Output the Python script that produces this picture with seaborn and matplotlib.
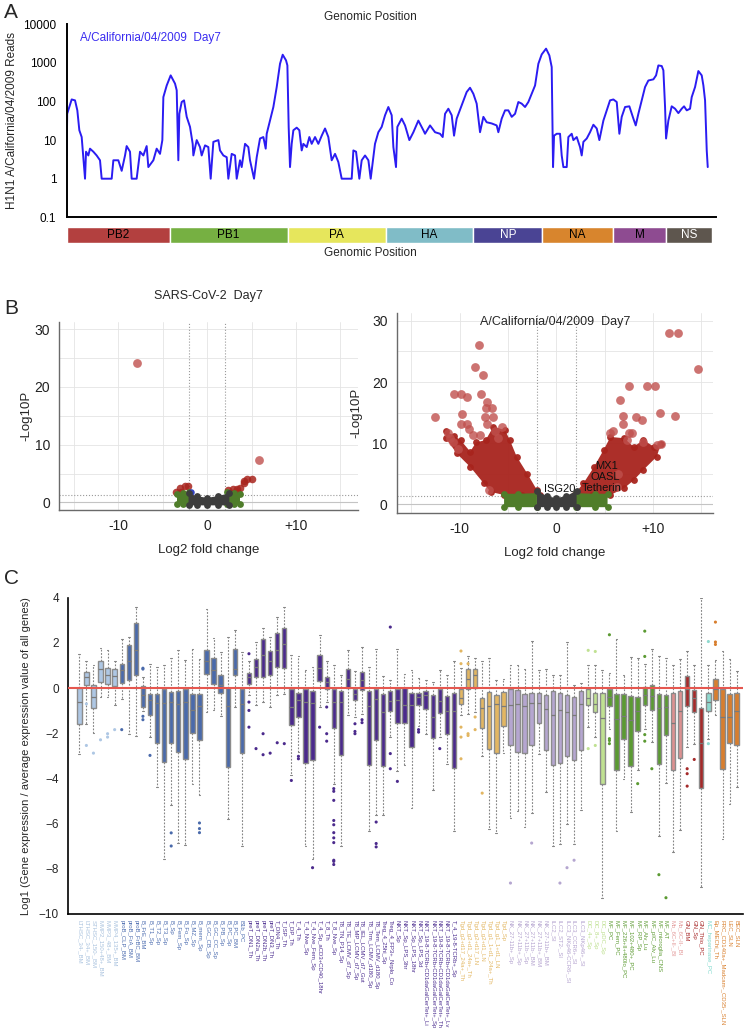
import matplotlib
matplotlib.use("Agg")
import matplotlib.pyplot as plt
from matplotlib.ticker import NullLocator
import seaborn as sns
import pandas as pd

# ---------------- Panel A: reads along the H1N1 genome ----------------
genome_pos = [0, 10, 104, 174, 222, 264, 313, 348, 383, 404,
              452, 487, 557, 626, 696, 731, 940, 975, 1079, 1149,
              1219, 1253, 1323, 1358, 1462, 1532, 1602, 1671, 1706, 1811,
              1880, 1950, 1999, 2020, 2090, 2173, 2264, 2299, 2333, 2354,
              2403, 2452, 2508, 2577, 2633, 2647, 2717, 2786, 2821, 2891,
              2960, 3009, 3065, 3170, 3204, 3274, 3344, 3378, 3448, 3518,
              3553, 3622, 3657, 3727, 3796, 3831, 3915, 3971, 4040, 4110,
              4159, 4180, 4249, 4319, 4389, 4458, 4514, 4584, 4612, 4639,
              4667, 4702, 4737, 4807, 4862, 4911, 4946, 5016, 5071, 5120,
              5190, 5259, 5329, 5399, 5468, 5538, 5608, 5677, 5747, 5956,
              5991, 6047, 6116, 6165, 6235, 6305, 6353, 6443, 6513, 6583,
              6653, 6722, 6792, 6827, 6882, 6910, 7001, 7071, 7161, 7245,
              7349, 7454, 7489, 7593, 7698, 7802, 7858, 7907, 7976, 8046,
              8095, 8150, 8255, 8359, 8429, 8499, 8568, 8638, 8708, 8777,
              8882, 8986, 9021, 9091, 9161, 9230, 9300, 9370, 9439, 9509,
              9579, 9648, 9718, 9788, 9857, 9927, 10018, 10087, 10136, 10164,
              10185, 10241, 10310, 10345, 10380, 10450, 10484, 10554, 10589, 10659,
              10728, 10763, 10798, 10868, 10937, 11007, 11077, 11132, 11216, 11286,
              11355, 11425, 11495, 11550, 11599, 11669, 11759, 11843, 11892, 11947,
              12017, 12087, 12156, 12261, 12317, 12365, 12435, 12470, 12505, 12526,
              12574, 12644, 12714, 12783, 12853, 12902, 12958, 13027, 13062, 13132,
              13201, 13271, 13306, 13341, 13376, 13397]
reads = [4, 48, 113, 107, 59, 18, 12, 3.6, 1, 5,
         4, 6, 5, 4, 3, 1, 1, 3, 3, 1.6,
         4, 7, 5, 1, 1, 5, 4, 7, 2, 3,
         6, 4.4, 10, 130, 260, 475, 290, 195, 3, 48,
         97, 107, 40, 22, 8, 4, 10, 6.6, 4, 7.3,
         6.6, 1, 9, 10, 5.4, 4, 3.6, 1, 4.4, 4,
         1, 3, 2, 8, 6.6, 3, 1, 3.6, 11, 12,
         6, 14.6, 32, 72, 237, 950, 1630, 1160, 860, 22,
         2, 8, 18, 21, 18, 5.4, 8, 6.6, 12, 8,
         12, 8, 13, 20, 12, 3, 4.4, 2.7, 1, 1,
         5.4, 5, 1, 3, 4, 3, 1, 8, 16, 22,
         44, 72, 44, 6.6, 2, 22, 36, 24, 10, 16,
         32, 18, 14.6, 24, 16, 14.6, 12, 48, 65, 44,
         13, 36, 80, 176, 227, 158, 88, 16, 40, 29,
         27, 24, 16, 36, 59, 59, 40, 48, 97, 88,
         72, 97, 158, 260, 950, 1660, 2340, 1560, 780, 2,
         13, 14.6, 14.6, 4, 2, 2, 12, 14.6, 10, 12,
         6.6, 4, 9, 11, 16, 25, 20, 10, 32, 59,
         107, 113, 97, 14.6, 40, 72, 75, 36, 24, 48,
         107, 237, 350, 375, 475, 860, 830, 640, 72, 11,
         32, 75, 65, 50, 65, 75, 59, 65, 130, 237,
         615, 475, 260, 107, 5.4, 2]

segments = ["PB2", "PB1", "PA", "HA", "NP", "NA", "M", "NS"]
seg_start = [0, 2150, 4620, 6670, 8500, 9940, 11420, 12530]
seg_end = [2150, 4620, 6670, 8500, 9940, 11420, 12530, 13480]
seg_colors = ["#b3403f", "#76b042", "#e6e65c", "#80bcc7", "#4a4494", "#d8852d", "#8e4b91", "#5e564e"]
seg_text = ["black", "black", "black", "black", "white", "black", "black", "white"]

# ---------------- Panel B: volcano plots ----------------
# SARS-CoV-2 Day7
sars_red_x = [5.0, 4.5, 4.2, 4.1, 3.7, 3.4, 2.9, 2.4, 2.9, 3.5, 2.6, -3.1, -2.5, -2.2, -3.5, -2.9]
sars_red_y = [4.1, 4.0, 3.7, 3.3, 2.5, 2.3, 2.3, 2.1, 1.7, 1.7, 1.4, 2.5, 2.9, 2.8, 1.9, 1.9]
sars_out_x = [-7.95, 5.85]
sars_out_y = [24.1, 7.3]
sars_green_lx = [-3.4, -3.4, -2.7, -2.0, -2.0, -2.7]
sars_green_ly = [-0.3, 1.5, 1.7, 1.8, -0.3, -0.3]
sars_green_rx = [2.2, 2.2, 3.0, 3.7, 3.7, 3.0]
sars_green_ry = [-0.3, 1.8, 1.6, 1.4, -0.3, -0.3]
sars_gray_x = [-2.1, -2.1, -1.2, 0.0, 1.2, 2.5, 2.5, 1.2, 0.0, -1.2]
sars_gray_y = [-0.5, 1.6, 1.1, 0.8, 1.1, 1.6, -0.5, -0.5, -0.5, -0.5]

# A/California/04/2009 Day7
flu_out_x = [-12.5, -10.6, -9.9, -9.2, -8.0, -8.4, -7.6, -7.8, -7.2, -7.3, -6.6, -7.4, -6.5, -7.2,
             -9.7, -9.9, -9.2, -9.0, -11.2, -11.0, -10.7, -10.2, -8.6, -7.9, -6.3, -5.6, -6.0, -7.0,
             11.7, 12.6, 14.7, 7.5, 9.4, 10.2, 10.7, 12.3, 6.6, 6.9, 6.9, 8.2, 8.9, 7.5, 7.8,
             5.6, 5.9, 7.3, 9.0, 10.4, 10.8, 6.4, 6.3]
flu_out_y = [14.3, 18.0, 18.0, 17.5, 26.1, 22.5, 21.1, 18.1, 16.8, 15.7, 15.7, 14.3, 14.3, 13.1,
             14.8, 13.2, 13.1, 12.3, 11.6, 10.8, 10.2, 9.0, 11.3, 11.3, 11.9, 12.7, 10.8, 2.3,
             28.0, 28.0, 22.1, 19.3, 19.3, 19.3, 15.0, 14.5, 17.0, 14.4, 13.1, 14.3, 13.8, 11.7, 11.7,
             11.6, 12.0, 10.5, 10.1, 9.7, 9.8, 4.9, 2.8]
flu_red_lx = [-11.4, -10.6, -9.9, -8.9, -8.3, -7.3, -6.5, -5.3, -4.8, -4.1, -3.0, -2.0, -1.7,
              -3.5, -5.4, -6.8, -7.5, -8.9, -10.3, -11.4]
flu_red_ly = [11.9, 11.2, 10.5, 8.6, 10.1, 10.5, 12.7, 12.1, 10.5, 7.8, 5.0, 2.3, 1.5,
              1.5, 1.5, 2.0, 3.4, 6.1, 8.3, 10.8]
flu_red_rx = [1.8, 2.8, 3.9, 4.9, 5.6, 7.0, 8.0, 9.0, 10.1, 10.8, 10.4, 9.0, 8.0, 7.0, 5.6, 3.7]
flu_red_ry = [1.5, 3.4, 6.1, 8.9, 11.0, 10.8, 9.4, 10.5, 9.4, 9.9, 7.8, 5.6, 3.9, 2.6, 1.5, 1.5]
flu_green_lx = [-5.4, -5.4, -4.0, -2.0, -2.0, -4.0]
flu_green_ly = [-0.5, 1.7, 1.7, 1.8, -0.5, -0.5]
flu_green_rx = [2.0, 2.0, 4.0, 5.3, 5.3, 4.0]
flu_green_ry = [-0.5, 1.8, 1.7, 1.7, -0.5, -0.5]
flu_gray_x = [-2.0, -2.0, -1.0, 0.0, 1.0, 2.1, 2.1, 1.0, 0.0, -1.0]
flu_gray_y = [-0.5, 2.2, 1.3, 1.0, 1.3, 2.2, -0.5, -0.5, -0.5, -0.5]
flu_genes = ["MX1", "OASL", "Tetherin", "ISG20"]
flu_gene_x = [5.2, 5.1, 4.7, 0.3]
flu_gene_y = [6.3, 4.5, 2.7, 2.5]

# ---------------- Panel C: expression per immune cell type ----------------
cell_types = [
    "LTHSC_34-_BM", "LTHSC_34+_BM", "STHSC_150-_BM", "MMP2_150+48+_BM", "MMP3_48+_BM", "MMP4_135+_BM",
    "proB_CLP_BM", "proB_FrA_BM", "proB_FrBC_BM", "B_FrE_BM", "B_T1_Sp", "B_T2_Sp", "B_T3_Sp", "B_Sp",
    "B_Fem_Sp", "B_Fo_Sp", "B_MZ_Sp", "B_mem_Sp", "B_GC_CB_Sp", "B_GC_CC_Sp", "B_PB_Sp", "B_PC_Sp",
    "B_PC_BM", "B1b_PC",
    "preT_DN1_Th", "preT_DN2a_Th", "preT_DN2b_Th", "preT_DN3_Th", "T_DN4_Th", "T_ISP_Th", "T_DP_Th",
    "T_4_Th", "T_4_Nve_Sp", "T_4_Nve_Fem_Sp", "T_4_Sp_aCD3+CD40_18hr", "T_8_Th", "T_8_Nve_Sp",
    "T8_TN_P14_Sp", "T8_TE_LCMV_d7_Sp", "T8_MP_LCMV_d7_Sp", "T8_IEL_LCMV_d7_Gut", "T8_Trm_LCMV_d180_Sp",
    "T8_Tem_LCMV_d180_Sp", "Treg_4_25hi_Sp", "Treg_4_FP3+_Nrplo_Co", "NKT_Sp", "NKT_Sp_LPS_3hr",
    "NKT_Sp_LPS_18hr", "NKT_Sp_LPS_3d", "NKT_19-8-TCRb+CD1daGalCerTet+_Li",
    "NKT_19-8-TCRb+CD1daGalCerTet+_Sp", "NKT_19-8-TCRb+CD1daGalCerTet+_Th",
    "NKT_19-8-TCRb+CD1daGalCerTet+_Lv", "T_4_19-8-TCRb+_Sp",
    "Tgd_g2+d17_24a+_Th", "Tgd_g2+d1_24a+_Th", "Tgd_g2+d17_LN", "Tgd_g2+d1_LN", "Tgd_g1_1+d1_24a+_Th",
    "Tgd_g1_1+d1_LN", "Tgd_Sp",
    "NK_27-11b+_Sp", "NK_27+11b+_Sp", "NK_27+11b-_Sp", "NK_27+11b-_BM", "NK_27+11b+_BM", "NK_27-11b+_BM",
    "ILC2_SI", "ILC2_ST2-_SI", "ILC3_NKp46-CCR6-_SI", "ILC3_CCR6+_SI", "ILC3_NKp46+_SI",
    "DC_4+_Sp", "DC_8+_Sp", "DC_pDC_Sp",
    "MF_PC", "MF_Fem_PC", "MF_226+II+480lo_PC", "MF_102+480+_PC", "MF_RP_Sp", "MF_Alv_Lu",
    "MF_pIC_Alv_Lu", "MF_microglia_CNS", "MF_AT",
    "Mo_6C+II-_Bl", "Mo_6C-II-_Bl", "GN_BM", "GN_Sp", "GN_Thio_PC", "MC_heparinase_PC",
    "Ep_MEChi_Th", "FRC_CD140a+_Madcam-_CD35-_SLN", "LEC_SLN", "BEC_SLN"]
cell_group = (["HSC"] * 6 + ["B"] * 18 + ["T"] * 30 + ["Tgd"] * 7 + ["NK"] * 11 + ["DC"] * 3
              + ["MF"] * 9 + ["Mo"] * 2 + ["GN"] * 3 + ["MC"] * 1 + ["Str"] * 4)

wh_hi = [1.52, 1.22, 1.0, 1.78, 1.67, 1.2, 2.18, 2.26, 3.58, 0.5,
         1.05, 0.93, 1.03, 1.34, 1.67, 1.25, 1.71, 1.3, 3.48, 2.21,
         1.6, 2.26, 2.58, 1.6, 1.2, 2.04, 2.67, 2.26, 3.14, 3.61,
         1.45, 1.4, 0.78, 0.93, 2.37, 1.19, 1.0, 0.6, 1.67, 0.74,
         1.81, 0.93, 1.74, 0.52, 0.34, 1.71, 0.63, 0.78, 0.46, 0.34,
         0.27, 0.78, 0.59, 1.19, 0.9, 1.4, 1.34, 1.19, 1.34, 0.37,
         0.41, 1.0, 1.0, 0.83, 2.08, 0.81, 0.83, 0.59, 0.59, 2.04,
         0.12, 0.22, 1.0, 1.03, 0.81, 0.66, 2.18, 0.59, 1.37, 1.33,
         1.05, 1.74, 1.4, 1.34, 1.0, 1.3, 1.64, 1.0, 4.0, 1.0,
         1.25, 1.64, 1.3, 0.75]
q3 = [0.0, 0.70, 0.12, 1.19, 0.9, 0.83, 1.08, 1.89, 2.89, 0.07,
      -0.25, -0.25, -0.03, -0.18, -0.13, -0.03, -0.25, -0.25, 1.67, 1.33,
      0.59, 0.0, 1.74, -0.03, 0.66, 1.3, 2.15, 1.64, 2.43, 2.67,
      -0.03, -0.2, -0.03, -0.13, 1.47, 0.49, -0.03, -0.13, 0.83, -0.03,
      0.71, -0.13, -0.03, -0.25, -0.13, -0.03, 0.0, -0.22, -0.2, -0.15,
      -0.32, -0.06, -0.37, -0.2, -0.03, 0.83, 0.86, -0.43, -0.18, -0.29,
      -0.18, -0.03, -0.1, -0.25, -0.2, -0.22, -0.32, -0.13, -0.22, -0.32,
      -0.4, -0.13, -0.03, -0.2, -0.2, -0.03, -0.25, -0.28, -0.37, -0.4,
      0.04, 0.15, -0.25, -0.32, -0.22, -0.15, 0.53, -0.1, -0.88, -0.2,
      0.41, -0.03, -0.28, -0.22]
med = [-0.62, 0.49, -0.4, 0.86, 0.6, 0.52, 0.78, 1.19, 1.67, -0.32,
       -0.55, -0.66, -0.65, -0.62, -0.69, -0.62, -0.99, -0.81, 1.19, 0.81,
       0.12, -0.81, 0.86, -0.69, 0.49, 0.93, 1.45, 1.18, 1.7, 1.93,
       -0.84, -0.52, -0.62, -0.66, 0.9, 0.27, -0.62, -0.6, 0.38, -0.25,
       0.37, -0.81, -0.47, -1.06, -0.58, -0.55, -0.74, -0.77, -0.4, -0.32,
       -1.28, -0.59, -1.03, -1.0, -0.44, 0.41, 0.56, -0.88, -0.8, -0.72,
       -0.81, -0.74, -0.69, -0.81, -0.65, -0.66, -0.91, -1.18, -0.99, -1.06,
       -1.2, -0.69, -0.44, -0.72, -1.33, -0.4, -1.36, -1.24, -1.43, -1.02,
       -0.32, -0.37, -0.9, -0.85, -1.53, -1.02, -0.03, -0.44, -2.42, -0.62,
       -0.06, -1.28, -1.28, -1.02]
q1 = [-1.58, 0.12, -0.9, 0.27, 0.19, 0.07, 0.22, 0.34, 0.6, -0.84,
      -1.17, -2.43, -3.27, -2.43, -2.83, -3.13, -1.99, -2.32, 0.63, 0.19,
      -0.22, -3.5, 0.56, -2.88, 0.19, 0.49, 0.49, 0.6, 0.93, 0.9,
      -1.65, -1.28, -3.32, -3.2, 0.31, -0.03, -1.76, -2.95, 0.01, -0.55,
      -0.07, -3.42, -2.32, -3.47, -1.02, -1.53, -1.55, -2.61, -0.77, -0.91,
      -2.21, -1.09, -2.02, -3.54, -0.69, -0.03, 0.01, -1.76, -2.68, -2.86,
      -1.7, -2.54, -2.83, -2.88, -2.54, -1.53, -2.76, -3.42, -3.32, -3.01,
      -3.2, -2.76, -0.77, -1.06, -4.26, -0.81, -3.64, -2.27, -3.47, -1.9,
      -0.77, -0.99, -3.38, -2.06, -3.61, -3.08, -0.8, -1.06, -4.41, -1.03,
      -0.52, -3.6, -2.42, -2.54]
wh_lo = [-2.9, -1.6, -2.0, -0.4, -0.4, -0.77, -0.47, -2.02, -2.1, -1.0,
         -2.17, -4.38, -7.55, -5.16, -6.85, -6.93, -4.23, -4.75, -1.06, -0.99,
         -1.25, -5.81, -0.84, -6.99, -0.3, -0.77, -0.62, -0.84, -0.32, -0.25,
         -3.86, -2.83, -6.99, -7.55, -0.84, -0.62, -4.23, -6.99, -1.17, -1.3,
         -1.14, -6.33, -5.63, -5.63, -2.17, -3.69, -3.42, -5.29, -1.7, -2.02,
         -4.53, -2.17, -3.35, -6.32, -1.21, -1.14, -1.06, -3.0, -6.22, -6.4,
         -2.88, -5.74, -5.44, -6.15, -5.53, -2.9, -4.6, -7.0, -6.92, -6.0,
         -6.92, -5.41, -1.73, -2.17, -9.28, -1.8, -6.32, -4.01, -5.49, -3.64,
         -1.8, -2.4, -6.55, -4.2, -7.25, -6.3, -2.61, -2.46, -8.8, -2.24,
         -1.21, -6.67, -5.15, -4.38]

flier_idx = [1, 1, 2, 3, 4, 4, 5, 6, 9, 9, 9, 9, 10, 13, 13, 17, 17, 17,
             24, 24, 24, 24, 25, 26, 26, 27, 28, 29, 30, 31, 31, 33, 34, 35, 35, 35,
             36, 36, 36, 36, 36, 36, 36, 36, 36, 36, 36,
             39, 39, 39, 40, 40, 42, 42, 42, 44, 44, 44, 45, 48, 48, 51,
             54, 54, 55, 54, 54, 54, 55, 55, 56, 56, 57,
             61, 64, 68, 69, 70, 72, 72, 73, 73, 75, 75, 75, 75, 79, 80, 80, 80, 80, 81,
             82, 83, 86, 86, 86, 87, 89, 89, 90, 90, 90]
flier_val = [-0.7, -2.54, -2.88, -2.29, -2.17, -2.02, -1.84, -1.84, 0.88, 0.84, -1.25, -1.4, -2.98,
             -6.41, -6.99, -5.97, -6.22, -6.4,
             1.52, -0.62, -0.99, -1.73, -2.68, -2.02, -2.95, -2.88, -2.42, -2.46, -4.09, -3.02, -3.13,
             -7.95, -1.73, -0.84, -2.02, -2.35,
             -4.45, -4.57, -4.97, -5.86, -6.05, -6.4, -6.63, -6.84, -7.62, -7.67, -7.81,
             -1.58, -1.92, -2.02, -1.4, -1.53, -5.93, -6.88, -7.03, 2.7, -2.9, -3.57, -4.13,
             -1.84, -1.95, -2.68,
             1.64, 1.08, 1.08, -1.73, -2.17, -3.13, -2.02, -2.1, -1.84, -1.28, -4.65,
             -8.63, -6.86, -8.63, -7.95, -7.62, 1.67, -2.68, 1.62, -2.54, 2.36, -2.46, -2.32, -2.24,
             -4.23, 1.4, 2.52, -2.06, -2.35, -3.57,
             -8.26, -9.28, -3.57, -3.79, -4.34, -3.16, 2.06, -2.46, 2.92, 2.04, 1.93]

box_colors = {"HSC": "#aec7e4", "B": "#4a6aab", "T": "#4b2a8c", "Tgd": "#e2b662", "NK": "#b5a6d0",
              "DC": "#c0e192", "MF": "#5b9a32", "Mo": "#dc9090", "GN": "#a52a2a", "MC": "#8fd9cf",
              "Str": "#d87e2e"}
label_colors = {"HSC": "#a9c2de", "B": "#4d6db0", "T": "#4d2f90", "Tgd": "#e3b865", "NK": "#b4a3cf",
                "DC": "#bcdf8c", "MF": "#5e9c34", "Mo": "#e39a9a", "GN": "#a82a2a", "MC": "#7fd8cc",
                "Str": "#d9802e"}

# ---------------- figure ----------------
sns.set_style("white")
plt.rcParams["font.family"] = ["Liberation Sans", "DejaVu Sans"]

W, H = 745, 1032
fig = plt.figure(figsize=(W / 100, H / 100), dpi=100)


def rect(x0, y0, x1, y1):
    return [x0 / W, 1 - y1 / H, (x1 - x0) / W, (y1 - y0) / H]


# ---- A
axA = fig.add_axes(rect(66.7, 24.3, 716.5, 217.3))
cov = pd.DataFrame({"pos": genome_pos, "reads": reads})
sns.lineplot(data=cov, x="pos", y="reads", ax=axA, color="#2b1cf2", lw=1.4,
             estimator=None, sort=False)
axA.set_yscale("log")
axA.set_ylim(0.1, 10000)
axA.set_xlim(0, 13580)
axA.set_yticks([0.1, 1, 10, 100, 1000, 10000])
axA.set_yticklabels(["0.1", "1", "10", "100", "1000", "10000"])
axA.yaxis.set_minor_locator(NullLocator())
axA.set_xticks(range(0, 13501, 500))
axA.set_xticklabels([])
axA.tick_params(length=4, width=1.3, labelsize=8.5, colors="black")
for s in ("top", "right"):
    axA.spines[s].set_visible(False)
for s in ("left", "bottom"):
    axA.spines[s].set_linewidth(1.4)
    axA.spines[s].set_color("black")
axA.set_xlabel("")
axA.set_ylabel("H1N1 A/California/04/2009 Reads", fontsize=8.5, labelpad=4)
axA.text(0.02, 0.93, "A/California/04/2009  Day7", transform=axA.transAxes,
         color="#3a2cf0", fontsize=8.5, va="center")

axS = fig.add_axes(rect(66.7, 227, 716.5, 243))
for name, a, b, c, tc in zip(segments, seg_start, seg_end, seg_colors, seg_text):
    axS.barh(0, b - a, left=a, height=1, color=c)
    axS.text((a + b) / 2, 0, name, ha="center", va="center", fontsize=8.5, color=tc)
axS.set_xlim(0, 13580)
axS.set_ylim(-0.5, 0.5)
axS.axis("off")

fig.text(370 / W, 1 - 17 / H, "Genomic Position", ha="center", va="center", fontsize=8.5)
fig.text(370 / W, 1 - 253 / H, "Genomic Position", ha="center", va="center", fontsize=8.5)

# ---- B
axBL = fig.add_axes(rect(59, 321.7, 358, 510))
axBR = fig.add_axes(rect(396.7, 313, 713, 513.3))
axBL.set_xlim(-16.7, 17)
axBL.set_ylim(-1.3, 31.3)
axBR.set_xlim(-16.5, 16.2)
axBR.set_ylim(-1.5, 31.3)

red_dense = "#a8241d"
red_light = "#c0504d"
green = "#4f7d2a"
gray = "#3d3d3d"

for ax in (axBL, axBR):
    for v in (-15, -10, -5, 0, 5, 10, 15):
        ax.axvline(v, color="#e4e4e4", lw=0.6, zorder=0)
    for h in range(0, 31, 5):
        ax.axhline(h, color="#e4e4e4", lw=0.6, zorder=0)
    ax.axhline(0, color="#c4c4c4", lw=0.8, zorder=0)
    ax.axvline(-2, color="#9a9a9a", ls=":", lw=0.8, zorder=0)
    ax.axvline(2, color="#9a9a9a", ls=":", lw=0.8, zorder=0)
    ax.axhline(1.3, color="#9a9a9a", ls=":", lw=0.8, zorder=0)
    for s in ("top", "right"):
        ax.spines[s].set_visible(False)
    for s in ("left", "bottom"):
        ax.spines[s].set_color("#6a6a6a")
        ax.spines[s].set_linewidth(1.0)
    ax.set_xticks([-10, 0, 10])
    ax.set_xticklabels(["-10", "0", "+10"])
    ax.set_yticks([0, 10, 20, 30])
    ax.tick_params(length=3, labelsize=10, colors="#222222")
    ax.set_xlabel("Log2 fold change", fontsize=9.5, labelpad=8)
    ax.set_ylabel("-Log10P", fontsize=9.5, labelpad=2)


def cloud(ax, xs, ys, color, alpha=1.0, z=2):
    ax.fill(xs, ys, color=color, alpha=alpha, lw=0, zorder=z)
    sns.scatterplot(x=xs, y=ys, ax=ax, color=color, s=24, alpha=alpha, linewidth=0,
                    zorder=z, legend=False)


# SARS-CoV-2
sns.scatterplot(x=sars_red_x, y=sars_red_y, ax=axBL, color=red_dense, s=30, alpha=0.85,
                linewidth=0, zorder=2, legend=False)
cloud(axBL, sars_green_lx, sars_green_ly, green)
cloud(axBL, sars_green_rx, sars_green_ry, green)
sns.scatterplot(x=[-1.8], y=[1.9], ax=axBL, color="#3040c0", s=22, linewidth=0, zorder=3, legend=False)
cloud(axBL, sars_gray_x, sars_gray_y, gray, z=3)
sns.scatterplot(x=sars_out_x, y=sars_out_y, ax=axBL, color=red_light, s=40, alpha=0.8,
                linewidth=0, zorder=4, legend=False)
axBL.set_title("SARS-CoV-2  Day7", fontsize=9, pad=16)

# A/California/04/2009
cloud(axBR, flu_red_lx, flu_red_ly, red_dense, alpha=0.95)
cloud(axBR, flu_red_rx, flu_red_ry, red_dense, alpha=0.95)
sns.scatterplot(x=flu_out_x, y=flu_out_y, ax=axBR, color=red_light, s=40, alpha=0.8,
                linewidth=0, zorder=4, legend=False)
cloud(axBR, flu_green_lx, flu_green_ly, green, z=3)
cloud(axBR, flu_green_rx, flu_green_ry, green, z=3)
cloud(axBR, flu_gray_x, flu_gray_y, gray, z=3)
for g, gx, gy in zip(flu_genes, flu_gene_x, flu_gene_y):
    axBR.text(gx, gy, g, ha="center", va="center", fontsize=8, color="#111111", zorder=6)
axBR.text(0.5, 0.985, "A/California/04/2009  Day7", transform=axBR.transAxes,
          ha="center", va="top", fontsize=9)
axBR.yaxis.set_label_coords(-0.11, 0.5)
axBL.yaxis.set_label_coords(-0.09, 0.5)

# ---- C
axC = fig.add_axes(rect(68, 597.7, 743, 914))
stats = []
for i in range(len(cell_types)):
    stats.append(dict(med=med[i], q1=q1[i], q3=q3[i], whislo=wh_lo[i], whishi=wh_hi[i], fliers=[]))
bp = axC.bxp(stats, positions=list(range(len(cell_types))), widths=0.62, patch_artist=True,
             showfliers=False, capwidths=0.25,
             boxprops=dict(edgecolor="#8c8c8c", linewidth=1.0),
             whiskerprops=dict(color="#858585", linewidth=0.8, linestyle=(0, (1.6, 1.4))),
             capprops=dict(color="#858585", linewidth=0.8),
             medianprops=dict(color="#7a7a7a", linewidth=0.9))
for patch, g in zip(bp["boxes"], cell_group):
    patch.set_facecolor(box_colors[g])
axC.scatter(flier_idx, flier_val, s=5, linewidths=0, zorder=4,
            c=[box_colors[cell_group[i]] for i in flier_idx])
axC.axhline(0, color="#e5574f", lw=1.5, zorder=3)
axC.set_xlim(-1.6, 93.9)
axC.set_ylim(-10, 4)
axC.set_yticks(range(-10, 5, 2))
axC.set_xticks(range(len(cell_types)))
axC.set_xticklabels(cell_types, rotation=-90, fontsize=4.3, va="top", ha="center")
for lab, g in zip(axC.get_xticklabels(), cell_group):
    lab.set_color(label_colors[g])
axC.tick_params(axis="x", length=3, width=0.6, pad=1.5)
axC.tick_params(axis="y", length=3, width=1.0, labelsize=8.5)
for s in ("top", "right"):
    axC.spines[s].set_visible(False)
for s in ("left", "bottom"):
    axC.spines[s].set_color("black")
    axC.spines[s].set_linewidth(1.2)
axC.set_ylabel("Log1 (Gene expression / average expression value of all genes)", fontsize=8,
               labelpad=6)

# panel letters
fig.text(4 / W, 1 - 12 / H, "A", fontsize=15, va="center")
fig.text(4 / W, 1 - 308 / H, "B", fontsize=15, va="center")
fig.text(4 / W, 1 - 578 / H, "C", fontsize=15, va="center")

fig.savefig("out.png", dpi=100)
